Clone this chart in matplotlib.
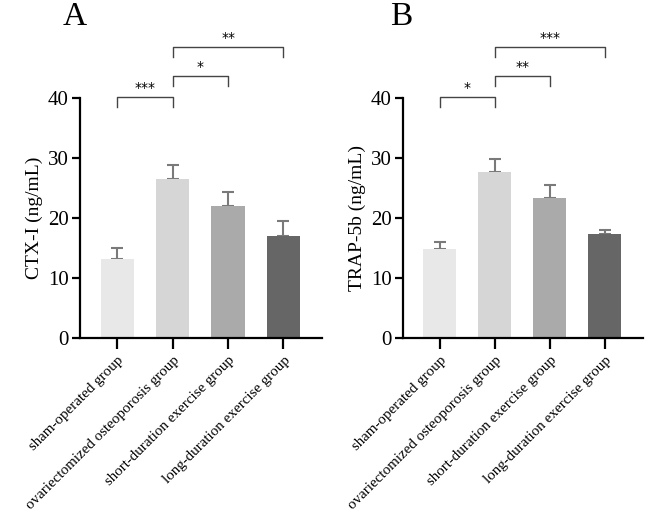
import matplotlib.pyplot as plt
import numpy as np

plt.rcParams["font.family"] = ["Liberation Serif", "DejaVu Serif"]

groups = [
    "sham-operated group",
    "ovariectomized osteoporosis group",
    "short-duration exercise group",
    "long-duration exercise group",
]
bar_colors = ["#e8e8e8", "#d6d6d6", "#aaaaaa", "#666666"]

ctx_mean = [13.2, 26.5, 22.1, 17.1]
ctx_err = [1.8, 2.3, 2.3, 2.4]
ctx_sig = [(0, 1, "***", 38.5, 40.2), (1, 2, "*", 42.0, 43.7), (1, 3, "**", 46.8, 48.5)]

trap_mean = [14.8, 27.7, 23.4, 17.4]
trap_err = [1.2, 2.1, 2.1, 0.6]
trap_sig = [(0, 1, "*", 38.5, 40.2), (1, 2, "**", 42.0, 43.7), (1, 3, "***", 46.8, 48.5)]


def draw_panel(ax, means, errs, sig, ylabel, letter, letter_x):
    x = np.arange(len(groups))
    ax.bar(x, means, width=0.6, color=bar_colors, zorder=2)
    ax.errorbar(x, means, yerr=[np.zeros(len(errs)), errs], fmt="none",
                ecolor="#7a7a7a", elinewidth=1.5, capsize=4, capthick=1.5, zorder=1)
    ax.set_xlim(-0.67, 3.69)
    ax.set_ylim(0, 40)
    ax.set_yticks([0, 10, 20, 30, 40])
    ax.set_xticks(x)
    ax.set_xticklabels(groups, rotation=45, ha="right", rotation_mode="anchor", fontsize=10.8)
    ax.tick_params(axis="y", labelsize=15, width=1.6, length=6, pad=2)
    ax.tick_params(axis="x", width=1.6, length=8, pad=3)
    ax.set_ylabel(ylabel, fontsize=14, labelpad=4)
    for side in ("top", "right"):
        ax.spines[side].set_visible(False)
    for side in ("left", "bottom"):
        ax.spines[side].set_linewidth(1.6)

    for a, b, stars, low, high in sig:
        ax.plot([a, a, b, b], [low, high, high, low], color="#444444", lw=1.0, clip_on=False)
        ax.text((a + b) / 2, high + 0.4, stars, ha="center", va="bottom", fontsize=10,
                family="DejaVu Sans", clip_on=False)
    ax.text(letter_x, 1.304, letter, transform=ax.transAxes, fontsize=24,
            ha="left", va="baseline")


fig = plt.figure(figsize=(6.46, 5.25), dpi=100)
ax1 = fig.add_axes([0.124, 0.356, 0.374, 0.457])
ax2 = fig.add_axes([0.624, 0.356, 0.371, 0.457])

draw_panel(ax1, ctx_mean, ctx_err, ctx_sig, "CTX-I (ng/mL)", "A", -0.072)
draw_panel(ax2, trap_mean, trap_err, trap_sig, "TRAP-5b (ng/mL)", "B", -0.056)

fig.savefig("out.png", dpi=100)
